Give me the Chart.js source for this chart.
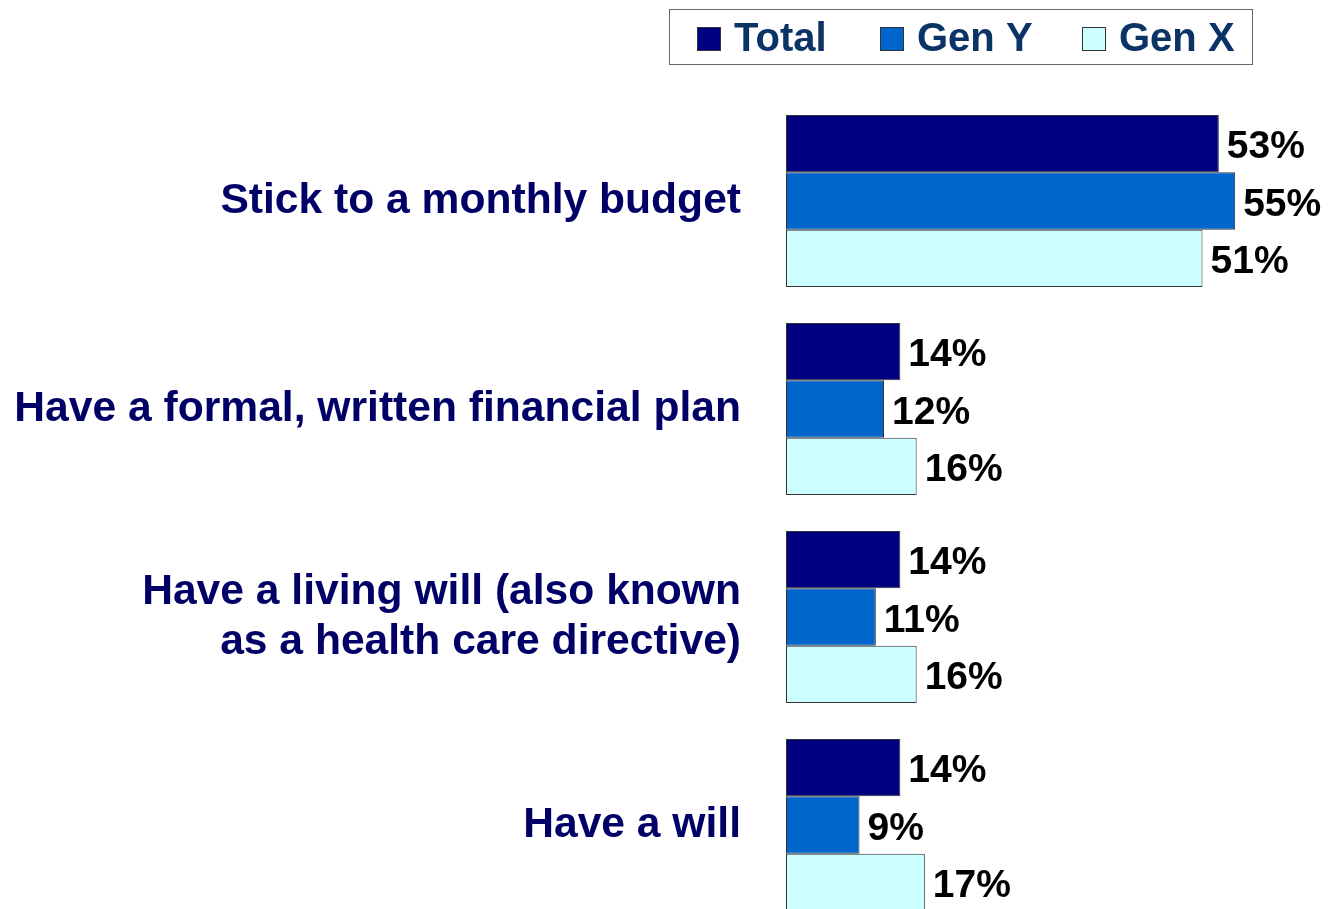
<!DOCTYPE html>
<html>
<head>
<meta charset="utf-8">
<script src="https://cdn.jsdelivr.net/npm/chart.js@4/dist/chart.umd.min.js"></script>
<style>
  html, body { margin: 0; padding: 0; background: #fff; overflow: hidden; }
  canvas { display: block; }
</style>
</head>
<body>
<canvas id="planesChart" width="1328" height="940"></canvas>
<script>
// Categorías y porcentajes por generación
const categorias = [
  'Stick to a monthly budget',
  'Have a formal, written financial plan',
  ['Have a living will (also known', 'as a health care directive)'],
  'Have a will'
];
const total = [53, 14, 14, 14];
const genY = [55, 12, 11, 9];
const genX = [51, 16, 16, 17];

const fuente = "'Liberation Sans', Arial, sans-serif";

// Etiquetas de valor al final de cada barra
const etiquetasValor = {
  id: 'etiquetasValor',
  afterDatasetsDraw(chart) {
    const ctx = chart.ctx;
    ctx.save();
    ctx.font = 'bold 39px ' + fuente;
    ctx.fillStyle = '#000';
    ctx.textAlign = 'left';
    ctx.textBaseline = 'middle';
    chart.data.datasets.forEach((ds, i) => {
      chart.getDatasetMeta(i).data.forEach((bar, j) => {
        ctx.fillText(ds.data[j] + '%', bar.x + 8, bar.y + 4);
      });
    });
    ctx.restore();
  }
};

// Leyenda con recuadro arriba a la derecha
const leyendaCaja = {
  id: 'leyendaCaja',
  afterDraw(chart) {
    const ctx = chart.ctx;
    ctx.save();
    ctx.strokeStyle = '#666';
    ctx.lineWidth = 1;
    ctx.strokeRect(669.5, 9.5, 583, 55);
    const posX = [697, 880, 1082];
    ctx.font = 'bold 40px ' + fuente;
    ctx.textBaseline = 'middle';
    chart.data.datasets.forEach((ds, i) => {
      ctx.fillStyle = ds.backgroundColor;
      ctx.fillRect(posX[i], 27, 24, 24);
      ctx.strokeStyle = '#333';
      ctx.strokeRect(posX[i] + 0.5, 27.5, 23, 23);
      ctx.fillStyle = '#0a3366';
      ctx.fillText(ds.label, posX[i] + 37, 40);
    });
    ctx.restore();
  }
};

new Chart(document.getElementById('planesChart'), {
  type: 'bar',
  data: {
    labels: categorias,
    datasets: [
      { label: 'Total', data: total, backgroundColor: '#000080' },
      { label: 'Gen Y', data: genY, backgroundColor: '#0066CC' },
      { label: 'Gen X', data: genX, backgroundColor: '#CCFFFF' }
    ].map(d => Object.assign(d, {
      borderColor: '#333',
      borderWidth: 1,
      borderSkipped: false,
      barPercentage: 1,
      categoryPercentage: 0.827
    }))
  },
  options: {
    indexAxis: 'y',
    responsive: false,
    animation: false,
    devicePixelRatio: 1,
    layout: { padding: { top: 97, right: 52, bottom: 11, left: 0 } },
    plugins: {
      legend: { display: false },
      tooltip: { enabled: false }
    },
    scales: {
      x: { display: false, min: 0, max: 60 },
      y: {
        grid: { display: false, drawTicks: false },
        border: { display: false },
        ticks: {
          padding: 45,
          color: '#000066',
          font: { family: fuente, size: 42.6, weight: 'bold', lineHeight: 1.17 }
        },
        afterFit(scale) {
          // ancho fijo del eje y sin margen extra arriba/abajo
          scale.width = 786;
          scale.paddingTop = 0;
          scale.paddingBottom = 0;
        }
      }
    }
  },
  plugins: [etiquetasValor, leyendaCaja]
});
</script>
</body>
</html>
